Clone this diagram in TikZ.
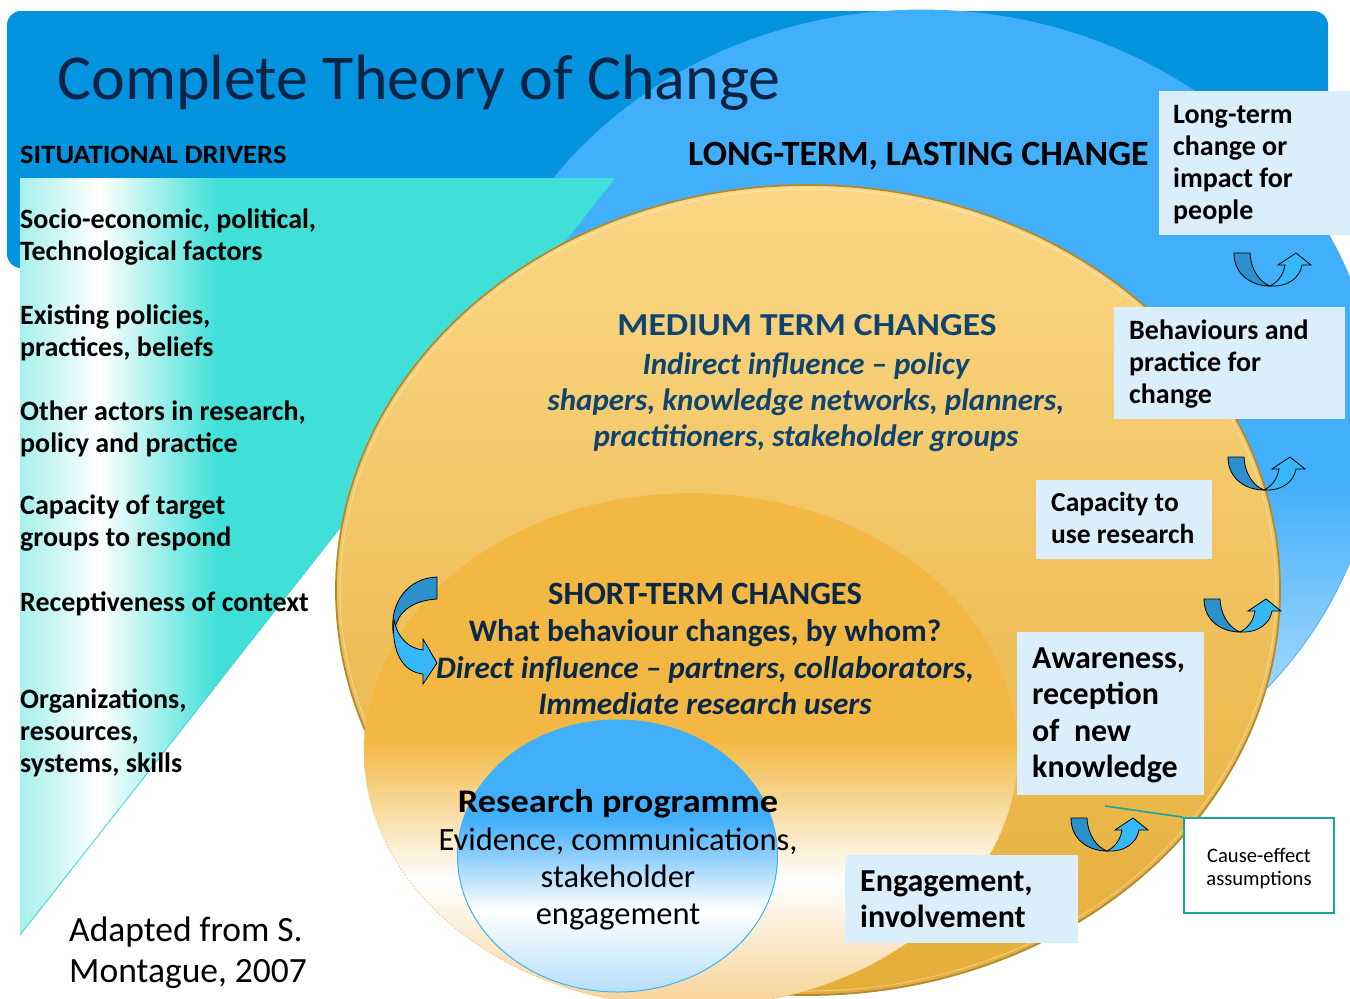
\documentclass[tikz,border=0pt]{standalone}
\usepackage{graphicx}
\usepackage{fontspec}
\setmainfont{Carlito}
\definecolor{dkblue}{HTML}{0393DF}
\definecolor{ltblue}{HTML}{42AFFA}
\definecolor{turq}{HTML}{40E0D8}
\definecolor{turqlt}{HTML}{A6F0EC}
\definecolor{turqedge}{HTML}{38D6E0}
\definecolor{yeltop}{HTML}{FBD886}
\definecolor{yelbot}{HTML}{E5AD38}
\definecolor{yeledge}{HTML}{B08B2F}
\definecolor{innerc}{HTML}{F2B843}
\definecolor{innerbot}{HTML}{F7D193}
\definecolor{innerline}{HTML}{F3C570}
\definecolor{blueedge}{HTML}{3FB2F2}
\definecolor{bluebot}{HTML}{B3DDFA}
\definecolor{boxfill}{HTML}{DAEEFC}
\definecolor{titlenavy}{HTML}{0B2446}
\definecolor{navy}{HTML}{0C2849}
\definecolor{medtext}{HTML}{0F4470}
\definecolor{arrdark}{HTML}{2B90CC}
\definecolor{arrlight}{HTML}{35B7F8}
\definecolor{tealc}{HTML}{17A59C}
\newcommand\fsz[2]{\fontsize{#1}{#2}\selectfont}
\newcommand\wide[2]{\scalebox{#1}[1]{#2}}
\tikzset{
  txt/.style={inner sep=0pt},
  drv/.style={txt, anchor=north west, align=left, font=\fsz{28}{32}\bfseries},
  lbg/.style={fill=boxfill, inner sep=0pt, anchor=north west},
  ltx/.style={txt, anchor=west, align=left},
  uparr/.pic={
    \filldraw[fill=arrdark, draw=black, line width=0.8pt]
      (0,0) -- (16,0) .. controls (17,18) and (26,29) .. (36,33)
      .. controls (18,33) and (0,22) .. (0,0) -- cycle;
    \filldraw[fill=arrlight, draw=black, line width=0.8pt]
      (36,33) .. controls (42,30) and (49,24) .. (51,12) -- (44,12) -- (62,0) -- (77,12) -- (68,12)
      .. controls (66,24) and (55,34) .. (36,33) -- cycle;
  }
}
\begin{document}
\begin{tikzpicture}[x=1pt,y=-1pt]
\useasboundingbox (0,0) rectangle (1350,999);
\clip (0,0) rectangle (1350,999);
\fill[white] (0,0) rectangle (1350,999);
% dark header band
\fill[dkblue, rounded corners=14pt] (7,11) rectangle (1328,268);
% long-term ellipse
\begin{scope}
  \clip (922,420) ellipse[x radius=456pt, y radius=410pt];
  \fill[ltblue] (440,0) rectangle (1380,480);
  \shade[top color=ltblue, bottom color=white] (440,480) rectangle (1380,900);
\end{scope}
\draw[ltblue, line width=0.8pt] (922,420) ellipse[x radius=456pt, y radius=410pt];
% situational drivers triangle
\fill[turq] (20,178) -- (615,178) -- (20,935) -- cycle;
\begin{scope}
  \clip (20,178) -- (615,178) -- (20,935) -- cycle;
  \shade[left color=turqlt, right color=white] (20,170) rectangle (100,940);
  \shade[left color=white, right color=turq] (100,170) rectangle (217,940);
\end{scope}
\draw[turqedge, line width=0.8pt] (615,178) -- (20,935);
% medium term ellipse
\begin{scope}
  \clip (808,590) ellipse[x radius=472pt, y radius=405pt];
  \shade[top color=yeltop, bottom color=yelbot] (330,185) rectangle (1290,995);
\end{scope}
\draw[yeledge, line width=1.8pt] (808,590) ellipse[x radius=472pt, y radius=405pt];
\draw[white, opacity=0.35, line width=1pt] (808,590) ellipse[x radius=468pt, y radius=401pt];
% short term ellipse
\begin{scope}
  \clip (691,750) ellipse[x radius=327pt, y radius=257pt];
  \fill[innerc] (350,480) rectangle (1030,740);
  \shade[top color=innerc, bottom color=white] (350,740) rectangle (1030,880);
  \shade[top color=white, bottom color=innerbot] (350,880) rectangle (1030,1010);
\end{scope}
\draw[innerline, line width=0.6pt, dash pattern=on 2pt off 1.5pt] (691,750) ellipse[x radius=327pt, y radius=257pt];
% research programme ellipse
\begin{scope}
  \clip (617.5,856) ellipse[x radius=160pt, y radius=136pt];
  \fill[ltblue] (450,715) rectangle (785,820);
  \shade[top color=ltblue, bottom color=white] (450,820) rectangle (785,910);
  \shade[top color=white, bottom color=bluebot] (450,910) rectangle (785,995);
\end{scope}
\draw[blueedge, line width=1pt] (617.5,856) ellipse[x radius=160pt, y radius=136pt];

% curved arrow on the left of short-term changes
\filldraw[fill=arrdark, draw=black, line width=0.8pt]
  (437,577) -- (437,599) .. controls (418,600) and (402,608) .. (397,622)
  -- (393,632) .. controls (390,602) and (408,578) .. (437,577) -- cycle;
\filldraw[fill=arrlight, draw=black, line width=0.8pt]
  (394,620) .. controls (398,638) and (408,648) .. (423,650) -- (423,639) -- (437,663)
  -- (423,684) -- (423,674) .. controls (403,672) and (391,652) .. (394,620) -- cycle;

% cause-effect arrows
\pic at (1234,253) {uparr};
\pic at (1228,457) {uparr};
\pic at (1204,599) {uparr};
\pic at (1071,818) {uparr};

% title and headings
\node[txt, anchor=base west, font=\fsz{64}{70}, text=titlenavy] (title) at (57,99) {Complete Theory of Change};
\node[txt, anchor=base west, font=\fsz{26.5}{30}\bfseries] (sit) at (20,163) {\wide{1.08}{SITUATIONAL DRIVERS}};
\node[txt, anchor=base west, font=\fsz{35.5}{40}\bfseries] (ltc) at (688,165) {\wide{1.01}{LONG-TERM, LASTING CHANGE}};

% situational drivers
\node[drv] (d1) at (20,205.6) {\strut Socio-economic, political,\\\strut Technological factors};
\node[drv] (d2) at (20,301.6) {\strut Existing policies,\\\strut practices, beliefs};
\node[drv] (d3) at (20,397.6) {\strut Other actors in research,\\\strut policy and practice};
\node[drv] (d4) at (20,491.6) {\strut Capacity of target\\\strut groups to respond};
\node[drv] (d5) at (20,588.6) {\strut Receptiveness of context};
\node[drv] (d6) at (20,685.6) {\strut Organizations,\\\strut resources,\\\strut systems, skills};

% medium term
\node[txt, anchor=base, font=\fsz{32}{36}\bfseries, text=medtext] (mth) at (807,335) {\wide{1.11}{MEDIUM TERM CHANGES}};
\node[txt, anchor=north, align=center, font=\fsz{31}{36.2}\bfseries\itshape, text=medtext] (mtb) at (806,349)
  {\strut Indirect influence -- policy\\\strut shapers, knowledge networks, planners,\\\strut practitioners, stakeholder groups};

% short term
\node[txt, anchor=north, align=center, font=\fsz{31.3}{36.7}\bfseries, text=navy] (stc) at (705,579)
  {{\fsz{32.5}{36.7}\strut SHORT-TERM CHANGES}\\\strut What behaviour changes, by whom?\\{\itshape\strut Direct influence -- partners, collaborators,}\\{\itshape\strut Immediate research users}};

% research programme
\node[txt, anchor=north, align=center, font=\fsz{32.5}{37.3}] (rp) at (618,786.5)
  {\strut{\fsz{33}{37.3}\bfseries\wide{1.1}{Research programme}}\\\strut Evidence, communications,\\\strut stakeholder\\\strut engagement};

% source
\node[txt, anchor=north west, align=left, font=\fsz{35.5}{41}] (src) at (69,912.5)
  {\strut Adapted from S.\\\strut Montague, 2007};

% right-hand boxes
\node[lbg, minimum width=191pt, minimum height=144pt] (ltbg) at (1159,91) {};
\node[ltx, font=\fsz{28}{32}\bfseries] (lt) at ([xshift=14pt, yshift=-2pt]ltbg.west)
  {\strut Long-term\\\strut change or\\\strut impact for\\\strut people};
\node[lbg, minimum width=231pt, minimum height=112pt] (bhbg) at (1114,307) {};
\node[ltx, font=\fsz{28}{32}\bfseries] (bh) at ([xshift=15pt, yshift=-1.5pt]bhbg.west)
  {\strut Behaviours and\\\strut practice for\\\strut change};
\node[lbg, minimum width=176pt, minimum height=79pt] (cpbg) at (1036,480) {};
\node[ltx, font=\fsz{27.5}{32}\bfseries] (cp) at ([xshift=15pt, yshift=-1.5pt]cpbg.west)
  {\strut Capacity to\\\strut use research};
\node[lbg, minimum width=187pt, minimum height=163pt] (awbg) at (1017,632) {};
\node[ltx, font=\fsz{32}{36.5}\bfseries] (aw) at ([xshift=15pt, yshift=-2pt]awbg.west)
  {\strut Awareness,\\\strut reception\\\strut of~ new\\\strut knowledge};
\node[lbg, minimum width=233pt, minimum height=88pt] (enbg) at (845,855) {};
\node[ltx, font=\fsz{32}{36}\bfseries] (en) at ([xshift=15pt, yshift=-3pt]enbg.west)
  {\strut Engagement,\\\strut involvement};

% cause-effect note
\node[draw=tealc, line width=1.6pt, fill=white, minimum width=150pt, minimum height=95pt, inner sep=0pt] (ce) at (1259,865.5) {};
\node[txt, align=center, font=\fsz{20.6}{23}] (cetx) at ([yshift=-3pt]ce.center) {Cause-effect\\assumptions};
\coordinate (cenote) at (1105,806);
\draw[tealc, line width=1.6pt] (cenote) -- (ce.north west);
\end{tikzpicture}
\end{document}
